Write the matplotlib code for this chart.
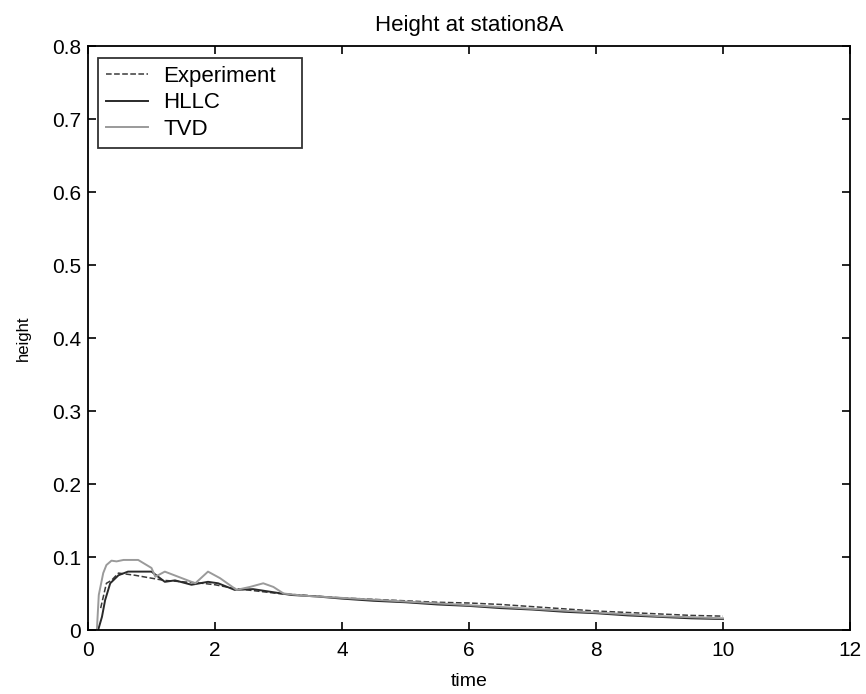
import matplotlib
matplotlib.use('Agg')
import matplotlib.pyplot as plt

plt.rcParams['font.family'] = ['Liberation Sans', 'DejaVu Sans']

# ----------------------- data -----------------------
t_exp = [0.20, 0.29, 0.37, 0.48, 0.74, 1.00, 1.20, 1.50, 1.80, 2.00, 2.30, 2.60,
         3.00, 3.50, 4.00, 4.50, 5.00, 5.50, 6.00, 6.50, 7.00, 7.50, 8.00, 8.50,
         9.00, 9.50, 10.00]
h_exp = [0.030, 0.064, 0.068, 0.078, 0.075, 0.071, 0.068, 0.066, 0.064, 0.062, 0.057, 0.054,
         0.050, 0.047, 0.044, 0.042, 0.040, 0.038, 0.037, 0.035, 0.032, 0.029, 0.026, 0.024,
         0.022, 0.020, 0.019]

t_hllc = [0.16, 0.22, 0.27, 0.35, 0.48, 0.63, 1.00, 1.21, 1.37, 1.63, 1.89, 2.05,
          2.31, 2.60, 2.90, 3.20, 3.60, 4.00, 4.50, 5.00, 5.50, 6.00, 6.50, 7.00,
          7.50, 8.00, 8.50, 9.00, 9.50, 10.00]
h_hllc = [0.000, 0.018, 0.041, 0.064, 0.075, 0.080, 0.080, 0.066, 0.068, 0.062, 0.066, 0.064,
          0.055, 0.056, 0.052, 0.048, 0.046, 0.043, 0.040, 0.038, 0.035, 0.033, 0.030, 0.028,
          0.025, 0.023, 0.020, 0.018, 0.016, 0.015]

t_tvd = [0.14, 0.17, 0.24, 0.29, 0.37, 0.45, 0.56, 0.79, 1.00, 1.06, 1.21, 1.45,
         1.69, 1.89, 2.08, 2.34, 2.55, 2.76, 2.92, 3.08, 3.40, 4.00, 5.00, 6.00,
         7.00, 8.00, 9.00, 10.00]
h_tvd = [0.000, 0.048, 0.078, 0.089, 0.095, 0.094, 0.096, 0.096, 0.085, 0.073, 0.080, 0.072,
         0.064, 0.080, 0.071, 0.055, 0.059, 0.064, 0.059, 0.050, 0.047, 0.044, 0.039, 0.034,
         0.029, 0.024, 0.019, 0.016]

# ----------------------- plot -----------------------
fig = plt.figure(figsize=(8.66, 6.94), dpi=100)
ax = fig.add_axes([0.1016, 0.0922, 0.8799, 0.8415])

ax.plot(t_exp, h_exp, color='#3a3a3a', ls='--', lw=1.1, label='Experiment')
ax.plot(t_hllc, h_hllc, color='#2a2a2a', ls='-', lw=1.4, label='HLLC')
ax.plot(t_tvd, h_tvd, color='#9a9a9a', ls='-', lw=1.4, label='TVD')

ax.set_xlim(0, 12)
ax.set_ylim(0, 0.8)
ax.set_xticks(range(0, 13, 2))
ax.set_yticks([0, 0.1, 0.2, 0.3, 0.4, 0.5, 0.6, 0.7, 0.8])
ax.set_yticklabels(['0', '0.1', '0.2', '0.3', '0.4', '0.5', '0.6', '0.7', '0.8'])
ax.tick_params(direction='in', top=True, right=True, length=6, width=1.2,
               labelsize=15)
ax.tick_params(axis='x', pad=8)
ax.tick_params(axis='y', pad=5)
for s in ax.spines.values():
    s.set_linewidth(1.3)

ax.set_xlabel('time', fontsize=14, labelpad=9)
ax.set_ylabel('height', fontsize=12, labelpad=15)
ax.set_title('Height at station8A', fontsize=16, pad=11)

# legend box stretched to the width seen in the scan
leg = ax.legend(loc='upper left', bbox_to_anchor=(0.0131, 0.5, 0.2677, 0.4795),
                mode='expand', borderaxespad=0, fontsize=16, frameon=True,
                fancybox=False, edgecolor='black', handlelength=1.9,
                handletextpad=0.7, labelspacing=0.25, borderpad=0.35)
leg.get_frame().set_linewidth(1.3)

plt.savefig('out.png', dpi=100)
